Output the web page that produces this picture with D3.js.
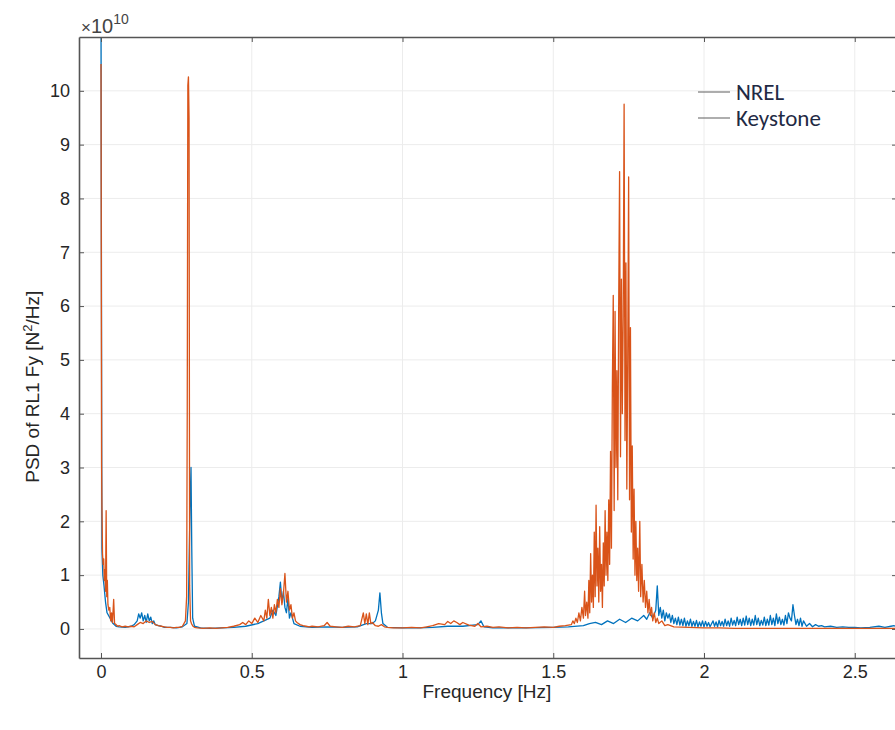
<!DOCTYPE html>
<html>
<head>
<meta charset="utf-8">
<script src="https://cdn.jsdelivr.net/npm/d3@7"></script>
<style>
  body { margin: 0; background: #fff; }
  .tick text { font-family: "Liberation Sans", Arial, sans-serif; font-size: 18px; fill: #262626; }
</style>
</head>
<body>
<div id="chart"></div>
<script>
const svgWidth = 895;
const svgHeight = 730;

const margin = { top: 37, right: -2, bottom: 72, left: 79 };
const width = svgWidth - margin.left - margin.right;
const height = svgHeight - margin.top - margin.bottom;

// values in units of 1e10 N^2/Hz
const keystoneFreq = [0.000, 0.002, 0.003, 0.005, 0.007, 0.009, 0.011, 0.013, 0.015, 0.017,
  0.019, 0.021, 0.023, 0.026, 0.029, 0.032, 0.035, 0.038, 0.042, 0.045,
  0.050, 0.055, 0.060, 0.070, 0.080, 0.090, 0.100, 0.110, 0.120, 0.130,
  0.140, 0.150, 0.160, 0.170, 0.180, 0.190, 0.200, 0.210, 0.220, 0.230,
  0.240, 0.250, 0.260, 0.270, 0.280, 0.284, 0.286, 0.288, 0.290, 0.292,
  0.294, 0.297, 0.300, 0.305, 0.310, 0.320, 0.340, 0.360, 0.380, 0.400,
  0.420, 0.440, 0.460, 0.470, 0.480, 0.490, 0.500, 0.510, 0.520, 0.530,
  0.540, 0.545, 0.550, 0.555, 0.560, 0.565, 0.570, 0.575, 0.580, 0.585,
  0.590, 0.595, 0.600, 0.605, 0.610, 0.615, 0.620, 0.625, 0.630, 0.635,
  0.640, 0.645, 0.650, 0.660, 0.670, 0.680, 0.690, 0.700, 0.720, 0.740,
  0.750, 0.760, 0.780, 0.800, 0.820, 0.840, 0.860, 0.870, 0.875, 0.880,
  0.885, 0.890, 0.895, 0.900, 0.910, 0.920, 0.930, 0.940, 0.950, 0.970,
  1.000, 1.030, 1.060, 1.080, 1.100, 1.120, 1.140, 1.150, 1.160, 1.170,
  1.180, 1.190, 1.200, 1.220, 1.240, 1.250, 1.260, 1.280, 1.300, 1.320,
  1.350, 1.380, 1.410, 1.440, 1.470, 1.500, 1.520, 1.540, 1.560, 1.565,
  1.570, 1.575, 1.580, 1.585, 1.590, 1.595, 1.600, 1.604, 1.607, 1.611,
  1.615, 1.618, 1.621, 1.624, 1.627, 1.630, 1.633, 1.636, 1.639, 1.642,
  1.645, 1.648, 1.651, 1.654, 1.657, 1.660, 1.663, 1.666, 1.669, 1.672,
  1.675, 1.678, 1.681, 1.684, 1.687, 1.690, 1.693, 1.696, 1.699, 1.702,
  1.705, 1.708, 1.711, 1.714, 1.717, 1.720, 1.723, 1.726, 1.729, 1.732,
  1.735, 1.738, 1.741, 1.744, 1.747, 1.750, 1.753, 1.756, 1.759, 1.762,
  1.765, 1.768, 1.771, 1.774, 1.777, 1.780, 1.783, 1.787, 1.790, 1.794,
  1.798, 1.802, 1.806, 1.810, 1.814, 1.818, 1.822, 1.826, 1.830, 1.835,
  1.840, 1.845, 1.850, 1.860, 1.870, 1.880, 1.900, 1.950, 2.000, 2.050,
  2.100, 2.200, 2.300, 2.400, 2.500, 2.600, 2.650];
const keystonePsd = [10.5, 3.0, 2.3, 1.4, 1.2, 1.3, 0.9, 1.1, 0.7, 2.2,
  0.6, 0.9, 0.45, 0.35, 0.4, 0.15, 0.3, 0.12, 0.55, 0.1,
  0.08, 0.05, 0.06, 0.04, 0.05, 0.04, 0.05, 0.04, 0.08, 0.12,
  0.1, 0.15, 0.12, 0.14, 0.08, 0.06, 0.05, 0.04, 0.03, 0.03,
  0.02, 0.03, 0.03, 0.05, 0.15, 0.6, 4.0, 10.1, 10.26, 9.5,
  0.8, 0.15, 0.1, 0.05, 0.03, 0.02, 0.01, 0.02, 0.01, 0.02,
  0.03, 0.05, 0.08, 0.12, 0.08, 0.15, 0.1, 0.2, 0.12, 0.25,
  0.15, 0.35, 0.2, 0.55, 0.25, 0.4, 0.2, 0.45, 0.3, 0.55,
  0.4, 0.75, 0.45, 0.65, 1.03, 0.5, 0.7, 0.35, 0.45, 0.2,
  0.3, 0.15, 0.12, 0.08, 0.06, 0.05, 0.04, 0.05, 0.04, 0.06,
  0.12, 0.05, 0.04, 0.03, 0.05, 0.04, 0.06, 0.3, 0.1, 0.28,
  0.08, 0.3, 0.1, 0.12, 0.06, 0.05, 0.08, 0.04, 0.03, 0.02,
  0.02, 0.03, 0.02, 0.04, 0.06, 0.1, 0.08, 0.14, 0.1, 0.15,
  0.12, 0.08, 0.12, 0.07, 0.05, 0.1, 0.04, 0.05, 0.03, 0.04,
  0.02, 0.03, 0.02, 0.03, 0.04, 0.03, 0.05, 0.06, 0.08, 0.15,
  0.1, 0.2, 0.12, 0.3, 0.15, 0.4, 0.2, 0.7, 0.25, 0.5,
  0.2, 0.9, 0.3, 1.4, 0.5, 1.0, 0.4, 1.8, 0.6, 2.3,
  0.8, 1.5, 0.5, 1.9, 0.7, 1.2, 0.4, 1.6, 0.8, 2.2,
  1.0, 1.8, 0.9, 2.4, 1.2, 3.3, 1.5, 4.5, 6.2, 2.2,
  5.9, 3.0, 4.8, 2.4, 6.0, 8.5, 3.2, 6.5, 4.0, 5.8,
  9.75, 3.5, 6.8, 2.6, 5.0, 8.4, 2.4, 5.6, 1.8, 3.4,
  1.3, 2.6, 1.0, 2.0, 0.9, 1.5, 0.7, 2.0, 0.6, 1.2,
  0.5, 0.9, 0.4, 0.7, 0.3, 0.55, 0.25, 0.4, 0.15, 0.3,
  0.12, 0.2, 0.1, 0.15, 0.06, 0.08, 0.04, 0.03, 0.02, 0.02,
  0.01, 0.01, 0.01, 0.01, 0.01, 0.01, 0.01];

const nrelFreq = [0.000, 0.003, 0.006, 0.010, 0.015, 0.020, 0.030, 0.040, 0.050, 0.060, 0.080, 0.100, 0.110, 0.120, 0.125, 0.130, 0.135, 0.140, 0.145, 0.150,
  0.155, 0.160, 0.165, 0.170, 0.175, 0.180, 0.190, 0.200, 0.210, 0.230, 0.250, 0.270, 0.285, 0.290, 0.295, 0.2985, 0.301, 0.304, 0.310, 0.330,
  0.360, 0.400, 0.440, 0.480, 0.520, 0.540, 0.560, 0.570, 0.580, 0.590, 0.595, 0.600, 0.605, 0.610, 0.615, 0.620, 0.625, 0.630, 0.640, 0.660,
  0.700, 0.750, 0.800, 0.850, 0.880, 0.900, 0.910, 0.920, 0.925, 0.930, 0.935, 0.950, 1.000, 1.050, 1.100, 1.150, 1.200, 1.250, 1.260, 1.270,
  1.300, 1.400, 1.500, 1.550, 1.600, 1.620, 1.640, 1.660, 1.680, 1.700, 1.720, 1.740, 1.760, 1.780, 1.800, 1.810, 1.820, 1.830, 1.840, 1.845,
  1.850, 1.855, 1.860, 1.865, 1.870, 1.875, 1.880, 1.885, 1.890, 1.895, 1.900, 1.905, 1.910, 1.915, 1.920, 1.925, 1.930, 1.935, 1.940, 1.945,
  1.950, 1.955, 1.960, 1.965, 1.970, 1.975, 1.980, 1.985, 1.990, 1.995, 2.000, 2.005, 2.010, 2.015, 2.020, 2.030, 2.035, 2.040, 2.045, 2.050,
  2.055, 2.060, 2.065, 2.070, 2.075, 2.080, 2.085, 2.090, 2.095, 2.100, 2.105, 2.110, 2.115, 2.120, 2.125, 2.130, 2.135, 2.140, 2.145, 2.150,
  2.155, 2.160, 2.165, 2.170, 2.175, 2.180, 2.185, 2.190, 2.195, 2.200, 2.205, 2.210, 2.215, 2.220, 2.225, 2.230, 2.235, 2.240, 2.245, 2.250,
  2.255, 2.260, 2.265, 2.270, 2.275, 2.280, 2.285, 2.290, 2.295, 2.300, 2.305, 2.310, 2.315, 2.320, 2.325, 2.330, 2.340, 2.350, 2.360, 2.370,
  2.380, 2.390, 2.400, 2.420, 2.440, 2.460, 2.480, 2.500, 2.520, 2.550, 2.580, 2.600, 2.620, 2.630, 2.640, 2.660];
const nrelPsd = [11.5, 1.5, 1.0, 0.8, 0.5, 0.3, 0.2, 0.1, 0.05, 0.04, 0.03, 0.05, 0.08, 0.15, 0.28, 0.2, 0.3, 0.15, 0.25, 0.12,
  0.28, 0.15, 0.22, 0.1, 0.15, 0.08, 0.06, 0.05, 0.03, 0.03, 0.02, 0.04, 0.1, 0.5, 2.2, 3.0, 1.5, 0.2, 0.05, 0.02,
  0.01, 0.02, 0.03, 0.05, 0.1, 0.15, 0.2, 0.35, 0.25, 0.6, 0.87, 0.5, 0.7, 0.4, 0.3, 0.57, 0.2, 0.3, 0.1, 0.05,
  0.03, 0.04, 0.03, 0.04, 0.1, 0.1, 0.15, 0.35, 0.67, 0.3, 0.1, 0.03, 0.02, 0.02, 0.03, 0.05, 0.05, 0.08, 0.15, 0.04,
  0.02, 0.02, 0.03, 0.04, 0.06, 0.1, 0.12, 0.08, 0.15, 0.1, 0.18, 0.12, 0.2, 0.15, 0.25, 0.18, 0.3, 0.2, 0.35, 0.8,
  0.25, 0.4, 0.2, 0.35, 0.15, 0.3, 0.2, 0.28, 0.12, 0.25, 0.1, 0.2, 0.08, 0.22, 0.07, 0.18, 0.06, 0.2, 0.05, 0.15,
  0.06, 0.18, 0.05, 0.14, 0.05, 0.16, 0.04, 0.13, 0.05, 0.15, 0.04, 0.14, 0.05, 0.12, 0.04, 0.15, 0.05, 0.13, 0.04, 0.16,
  0.06, 0.14, 0.05, 0.18, 0.06, 0.15, 0.05, 0.2, 0.07, 0.16, 0.06, 0.22, 0.08, 0.18, 0.06, 0.2, 0.07, 0.24, 0.08, 0.2,
  0.06, 0.18, 0.07, 0.25, 0.08, 0.2, 0.06, 0.16, 0.07, 0.22, 0.06, 0.18, 0.07, 0.25, 0.08, 0.2, 0.06, 0.28, 0.1, 0.22,
  0.08, 0.18, 0.07, 0.25, 0.1, 0.3, 0.2, 0.15, 0.45, 0.25, 0.08, 0.18, 0.06, 0.2, 0.05, 0.15, 0.05, 0.1, 0.04, 0.08,
  0.05, 0.06, 0.04, 0.05, 0.03, 0.04, 0.03, 0.03, 0.02, 0.03, 0.05, 0.03, 0.05, 0.06, 0.04, 0.03];

const xTicks = [0, 0.5, 1, 1.5, 2, 2.5];
const yTicks = [0, 1, 2, 3, 4, 5, 6, 7, 8, 9, 10];

const series = [
  { name: "NREL", freq: nrelFreq, psd: nrelPsd, color: "#0072BD" },
  { name: "Keystone", freq: keystoneFreq, psd: keystonePsd, color: "#D95319" }
];

const svg = d3.select("#chart")
  .append("svg")
  .attr("width", svgWidth)
  .attr("height", svgHeight);

const chartGroup = svg.append("g")
  .attr("transform", `translate(${margin.left}, ${margin.top})`);

const xScale = d3.scaleLinear()
  .domain([-0.073, -0.073 + width / 301.5])
  .range([0, width]);

const yScale = d3.scaleLinear()
  .domain([-0.54, 11])
  .range([height, 0]);

// grid
chartGroup.append("g")
  .selectAll("line")
  .data(xTicks)
  .enter()
  .append("line")
  .attr("x1", d => xScale(d))
  .attr("x2", d => xScale(d))
  .attr("y1", 0)
  .attr("y2", height)
  .attr("stroke", "#ececec");

chartGroup.append("g")
  .selectAll("line")
  .data(yTicks)
  .enter()
  .append("line")
  .attr("x1", 0)
  .attr("x2", width)
  .attr("y1", d => yScale(d))
  .attr("y2", d => yScale(d))
  .attr("stroke", "#ececec");

svg.append("clipPath")
  .attr("id", "plot-clip")
  .append("rect")
  .attr("width", width)
  .attr("height", height);

const line = d3.line()
  .x(d => xScale(d[0]))
  .y(d => yScale(d[1]));

chartGroup.append("g")
  .attr("clip-path", "url(#plot-clip)")
  .selectAll("path")
  .data(series)
  .enter()
  .append("path")
  .attr("d", s => line(s.freq.map((f, i) => [f, s.psd[i]])))
  .attr("fill", "none")
  .attr("stroke", s => s.color)
  .attr("stroke-width", 1.3)
  .attr("stroke-linejoin", "round");

// box axes with inward ticks
const axisColor = "#555";

const bottomAxis = d3.axisBottom(xScale).tickValues(xTicks).tickSizeInner(-5).tickSizeOuter(0).tickPadding(7)
  .tickFormat(d3.format("~g"));
const topAxis = d3.axisTop(xScale).tickValues(xTicks).tickSizeInner(-5).tickSizeOuter(0).tickFormat("");
const leftAxis = d3.axisLeft(yScale).tickValues(yTicks).tickSizeInner(-5).tickSizeOuter(0).tickPadding(9);
const rightAxis = d3.axisRight(yScale).tickValues(yTicks).tickSizeInner(-5).tickSizeOuter(0).tickFormat("");

[
  chartGroup.append("g").attr("transform", `translate(0, ${height})`).call(bottomAxis),
  chartGroup.append("g").call(topAxis),
  chartGroup.append("g").call(leftAxis),
  chartGroup.append("g").attr("transform", `translate(${width}, 0)`).call(rightAxis)
].forEach(g => {
  g.select(".domain").attr("stroke", axisColor).attr("stroke-width", 1.6);
  g.selectAll(".tick line").attr("stroke", axisColor);
});

// exponent label
const expText = chartGroup.append("text")
  .attr("x", 2)
  .attr("y", -4)
  .attr("font-family", "Liberation Sans, Arial, sans-serif")
  .attr("fill", "#444");
expText.append("tspan").attr("font-size", 17).text("×");
expText.append("tspan").attr("font-size", 20).text("10");
expText.append("tspan").attr("font-size", 14).attr("dy", -9).text("10");

// legend
const legend = chartGroup.append("g")
  .attr("transform", "translate(619, 55)");

legend.selectAll("line")
  .data(series)
  .enter()
  .append("line")
  .attr("x1", 0)
  .attr("x2", 32)
  .attr("y1", (d, i) => i * 26)
  .attr("y2", (d, i) => i * 26)
  .attr("stroke", "#777")
  .attr("stroke-width", 1.2);

legend.selectAll("text")
  .data(series)
  .enter()
  .append("text")
  .attr("x", 38)
  .attr("y", (d, i) => i * 26 + 8)
  .attr("font-family", "Carlito, Lato, sans-serif")
  .attr("font-size", 23)
  .attr("fill", "#1f2a44")
  .text(d => d.name);

// axis titles
chartGroup.append("text")
  .attr("transform", `translate(-40, ${yScale(4.5)}) rotate(-90)`)
  .attr("text-anchor", "middle")
  .attr("font-family", "Liberation Sans, Arial, sans-serif")
  .attr("font-size", 19)
  .attr("fill", "#262626")
  .call(t => {
    t.append("tspan").text("PSD of RL1 Fy [N");
    t.append("tspan").attr("font-size", 13).attr("dy", -7).text("2");
    t.append("tspan").attr("dy", 7).text("/Hz]");
  });

chartGroup.append("text")
  .attr("x", xScale(1.28))
  .attr("y", height + 40)
  .attr("text-anchor", "middle")
  .attr("font-family", "Liberation Sans, Arial, sans-serif")
  .attr("font-size", 19)
  .attr("fill", "#262626")
  .text("Frequency [Hz]");
</script>
</body>
</html>
